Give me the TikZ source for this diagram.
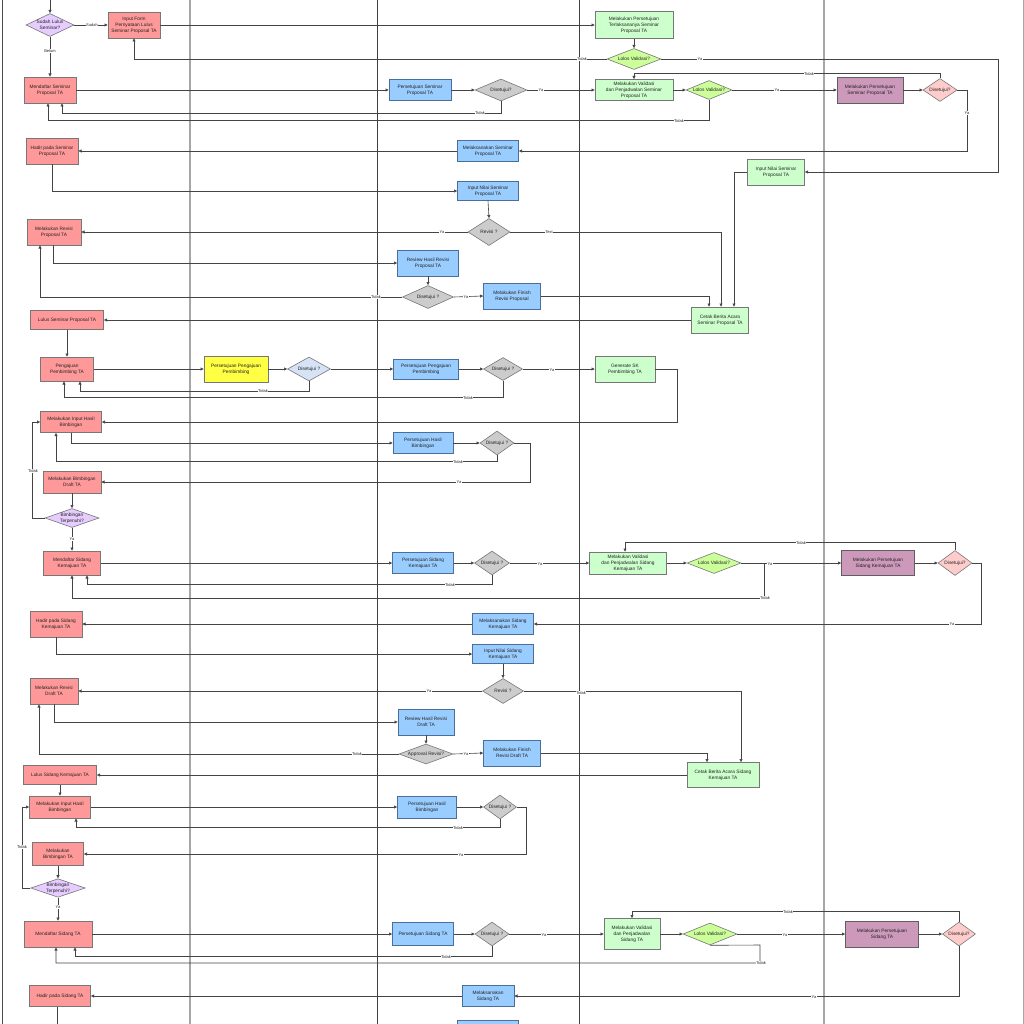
\documentclass[tikz,border=0pt]{standalone}
\usepackage{fontspec}
\setmainfont{Liberation Sans}
\usetikzlibrary{shapes.geometric,arrows.meta}
\definecolor{redf}{HTML}{FF9999}
\definecolor{bluef}{HTML}{99CCFF}
\definecolor{greenf}{HTML}{CCFFCC}
\definecolor{purpf}{HTML}{CC99BB}
\definecolor{yelf}{HTML}{FFFF44}
\definecolor{greyf}{HTML}{CCCCCC}
\definecolor{limef}{HTML}{CCFF99}
\definecolor{pinkf}{HTML}{FFCCCC}
\definecolor{lavf}{HTML}{E6CCFF}
\definecolor{lbluef}{HTML}{D6E2F5}
\definecolor{bordc}{HTML}{777777}
\definecolor{bbordc}{HTML}{4A6F99}
\definecolor{linec}{HTML}{444444}
\definecolor{txtc}{HTML}{222222}
\tikzset{
  sz/.style 2 args={minimum width=#1pt,minimum height=#2pt},
  base/.style={draw=bordc,line width=0.6pt,align=center,font=\fontsize{4.8}{6}\selectfont,text=txtc,inner sep=1pt},
  rbox/.style={base,rectangle,fill=redf},
  bbox/.style={base,rectangle,fill=bluef,draw=bbordc},
  gbox/.style={base,rectangle,fill=greenf},
  pbox/.style={base,rectangle,fill=purpf,draw=bordc!80!black},
  ybox/.style={base,rectangle,fill=yelf},
  dia/.style={base,diamond,inner sep=0pt},
  gdia/.style={dia,fill=greyf},
  ldia/.style={dia,fill=limef},
  pkdia/.style={dia,fill=pinkf},
  lvdia/.style={dia,fill=lavf},
  lbdia/.style={dia,fill=lbluef},
  arr/.style={draw=linec,line width=0.6pt,-{Triangle[length=3.2pt,width=3pt]}},
  lbl/.style={font=\fontsize{4}{4}\selectfont,fill=white,inner sep=0.5pt,text=txtc}
}
\begin{document}
\begin{tikzpicture}[x=1pt,y=-1pt]
\useasboundingbox (0,0) rectangle (1024,1024);
\fill[white] (0,0) rectangle (1024,1024);
% lanes
\draw[draw=black!70,line width=1pt] (2,0) -- (2,1024);
\draw[draw=black!35,line width=1.6pt] (190,0) -- (190,1024);
\draw[draw=black!75,line width=0.8pt] (377,0) -- (377,1024);
\draw[draw=black!75,line width=0.8pt] (579,0) -- (579,1024);
\draw[draw=black!35,line width=1.6pt] (824,0) -- (824,1024);
\draw[draw=black!35,line width=0.8pt] (1023,0) -- (1023,1024);

% nodes
\node[lvdia,sz={48}{23},aspect=2.09] (d1) at (50,25) {Sudah Lulus\\Seminar?};
\node[rbox,sz={52}{26}] (ifm) at (134,25) {Input Form\\Pernyataan Lulus\\Seminar Proposal TA};
\node[gbox,sz={78}{27}] (mpt) at (634,25) {Melakukan Persetujuan\\Terlaksananya Seminar\\Proposal TA};
\node[ldia,sz={54}{21},aspect=2.57] (lv1) at (634,59) {Lolos Validasi?};
\node[rbox,sz={52}{26}] (msp) at (50,90) {Mendaftar Seminar\\Proposal TA};
\node[bbox,sz={62}{21}] (psp) at (420,90) {Persetujuan Seminar\\Proposal TA};
\node[gdia,sz={52}{22},aspect=2.36] (ds1) at (501,90) {Disetujui?};
\node[gbox,sz={78}{21}] (mvs) at (634,90) {Melakukan Validasi\\dan Penjadwalan Seminar\\Proposal TA};
\node[ldia,sz={46}{19},aspect=2.42] (lv2) at (709,90) {Lolos Validasi?};
\node[pbox,sz={66}{26}] (mps) at (870,90) {Melakukan Persetujuan\\Seminar Proposal TA};
\node[pkdia,sz={34}{23},aspect=1.48] (ds2) at (940,90) {Disetujui?};
\node[bbox,sz={61}{21}] (msem) at (488,151) {Melaksanakan Seminar\\Proposal TA};
\node[rbox,sz={52}{26}] (hsp) at (52,151) {Hadir pada Seminar\\Proposal TA};
\node[bbox,sz={61}{19}] (insp) at (488,191) {Input Nilai Seminar\\Proposal TA};
\node[gbox,sz={57}{26}] (insg) at (776,172) {Input Nilai Seminar\\Proposal TA};
\node[gdia,sz={42}{27},aspect=1.56] (rv1) at (489,232) {Revisi ?};
\node[rbox,sz={54}{26}] (mrp) at (54,232) {Melakukan Revisi\\Proposal TA};
\node[bbox,sz={61}{26}] (rhr) at (428,263) {Review Hasil Revisi\\Proposal TA};
\node[gdia,sz={51}{23},aspect=2.2] (ds3) at (428,297) {Disetujui ?};
\node[bbox,sz={57}{26}] (mfr) at (512,296) {Melakukan Finish\\Revisi Proposal};
\node[gbox,sz={57}{26}] (cba) at (720,320) {Cetak Berita Acara\\Seminar Proposal TA};
\node[rbox,sz={73}{19}] (lsp) at (67,320) {Lulus Seminar Proposal TA};
\node[rbox,sz={53}{24}] (ppt) at (67,369) {Pengajuan\\Pembimbing TA};
\node[ybox,sz={64}{26}] (ppy) at (236,369) {Persetujuan Pengajuan\\Pembimbing};
\node[lbdia,sz={43}{24},aspect=1.8] (ds4) at (309,369) {Disetujui ?};
\node[bbox,sz={65}{20}] (ppb) at (426,369) {Persetujuan Pengajuan\\Pembimbing};
\node[gdia,sz={39}{23},aspect=1.7] (ds5) at (503,369) {Disetujui ?};
\node[gbox,sz={60}{26}] (gsk) at (625,369) {Generate SK\\Pembimbing TA};
\node[rbox,sz={61}{21}] (mih) at (71,422) {Melakukan Input Hasil\\Bimbingan};
\node[bbox,sz={60}{21}] (phb) at (423,443) {Persetujuan Hasil\\Bimbingan};
\node[gdia,sz={34}{24},aspect=1.42] (ds6) at (497,443) {Disetujui ?};
\node[rbox,sz={58}{22}] (mbd) at (72,482) {Melakukan Bimbingan\\Draft TA};
\node[lvdia,sz={54}{19},aspect=2.84] (bt1) at (72,518) {Bimbingan\\Terpenuhi?};
\node[rbox,sz={57}{24}] (msk) at (72,563) {Mendaftar Sidang\\Kemajuan TA};
\node[bbox,sz={61}{21}] (psk) at (423,563) {Persetujuan Sidang\\Kemajuan TA};
\node[gdia,sz={35}{24},aspect=1.46] (ds7) at (492,563) {Disetujui ?};
\node[gbox,sz={77}{22}] (mvk) at (628,563) {Melakukan Validasi\\dan Penjadwalan Sidang\\Kemajuan TA};
\node[ldia,sz={54}{21},aspect=2.57] (lv3) at (714,563) {Lolos Validasi?};
\node[pbox,sz={73}{25}] (mpk) at (878,563) {Melakukan Persetujuan\\Sidang Kemajuan TA};
\node[pkdia,sz={34}{25},aspect=1.36] (ds8) at (955,563) {Disetujui?};
\node[bbox,sz={61}{21}] (msk2) at (503,624) {Melaksanakan Sidang\\Kemajuan TA};
\node[rbox,sz={52}{26}] (hsk) at (56,624) {Hadir pada Sidang\\Kemajuan TA};
\node[bbox,sz={61}{19}] (insk) at (503,654) {Input Nilai Sidang\\Kemajuan TA};
\node[gdia,sz={41}{25},aspect=1.64] (rv2) at (503,691) {Revisi ?};
\node[rbox,sz={48}{26}] (mrd) at (54,691) {Melakukan Revisi\\Draft TA};
\node[bbox,sz={56}{26}] (rhd) at (426,722) {Review Hasil Revisi\\Draft TA};
\node[gdia,sz={54}{20},aspect=2.7] (apr) at (426,754) {Approval Revisi?};
\node[bbox,sz={57}{26}] (mfd) at (512,753) {Melakukan Finish\\Revisi Draft TA};
\node[gbox,sz={72}{25}] (cbk) at (723,775) {Cetak Berita Acara Sidang\\Kemajuan TA};
\node[rbox,sz={73}{19}] (lsk) at (60,775) {Lulus Sidang Kemajuan TA};
\node[rbox,sz={61}{22}] (mih2) at (60,807) {Melakukan Input Hasil\\Bimbingan};
\node[bbox,sz={59}{22}] (phb2) at (427,807) {Persetujuan Hasil\\Bimbingan};
\node[gdia,sz={33}{24},aspect=1.375] (ds9) at (500,807) {Disetujui ?};
\node[rbox,sz={51}{23}] (mbt) at (58,854) {Melakukan\\Bimbingan TA};
\node[lvdia,sz={53}{18},aspect=2.94] (bt2) at (58,888) {Bimbingan\\Terpenuhi?};
\node[rbox,sz={68}{26}] (mst) at (58,934) {Mendaftar Sidang TA};
\node[bbox,sz={61}{23}] (pst) at (423,934) {Persetujuan Sidang TA};
\node[gdia,sz={34}{24},aspect=1.42] (ds10) at (492,934) {Disetujui ?};
\node[gbox,sz={56}{31}] (mvt) at (632,934) {Melakukan Validasi\\dan Penjadwalan\\Sidang TA};
\node[ldia,sz={54}{22},aspect=2.45] (lv4) at (710,934) {Lolos Validasi?};
\node[pbox,sz={73}{26}] (mpt2) at (882,934) {Melakukan Persetujuan\\Sidang TA};
\node[pkdia,sz={33}{24},aspect=1.375] (ds11) at (959,934) {Disetujui?};
\node[bbox,sz={52}{21}] (mst2) at (488,996) {Melaksanakan\\Sidang TA};
\node[rbox,sz={61}{21}] (hst) at (60,996) {Hadir pada Sidang TA};
\node[bbox,sz={61}{24}] (bot) at (488,1032) {};
\coordinate (top) at (50,-2);
\coordinate (bend) at (57,1030);

% connectors
\draw[arr] (top) -- (d1.north);
\draw[arr] (d1.east) -- (ifm.west);
\draw[arr] (d1.south) -- (msp.north);
\draw[arr] (ifm.east) -- (mpt.west);
\draw[arr] (mpt.south) -- (lv1.north);
\draw[arr] (lv1.west) -- (134,59) -- (ifm.south);
\draw[arr] (lv1.east) -- (998,59) -- (998,172) -- (insg.east);
\draw[arr] (msp.east) -- (psp.west);
\draw[arr] (psp.east) -- (ds1.west);
\draw[arr] (ds1.east) -- (mvs.west);
\draw[arr] (ds1.south) -- (501,113) -- (62,113) -- ([xshift=12pt]msp.south);
\draw[arr] (mvs.east) -- (lv2.west);
\draw[arr] (lv2.south) -- (709,120) -- (48,120) -- ([xshift=-2pt]msp.south);
\draw[arr] (lv2.east) -- (mps.west);
\draw[arr] (mps.east) -- (ds2.west);
\draw[arr] (ds2.north) -- (940,73) -- (634,73) -- (mvs.north);
\draw[arr] (ds2.east) -- (967,90) -- (967,151) -- (msem.east);
\draw[arr] (msem.west) -- (hsp.east);
\draw[arr] (hsp.south) |- (insp.west);
\draw[arr] (insp.south) -- (rv1.north);
\draw[arr] (rv1.west) -- (mrp.east);
\draw[arr] (rv1.east) -- (721,232) -- ([xshift=1pt]cba.north);
\draw[arr] (insg.west) -- (734,172) -- ([xshift=14pt]cba.north);
\draw[arr] ([xshift=-1pt]mrp.south) |- (rhr.west);
\draw[arr] (rhr.south) -- (ds3.north);
\draw[arr] (ds3.west) -- (40,297) -- ([xshift=-14pt]mrp.south);
\draw[arr] (ds3.east) -- (mfr.west);
\draw[arr] (mfr.east) -- (709,296) -- ([xshift=-11pt]cba.north);
\draw[arr] (cba.west) -- (lsp.east);
\draw[arr] (lsp.south) -- (ppt.north);
\draw[arr] (ppt.east) -- (ppy.west);
\draw[arr] (ppy.east) -- (ds4.west);
\draw[arr] (ds4.south) -- (309,391) -- (80,391) -- ([xshift=13pt]ppt.south);
\draw[arr] (ds4.east) -- (ppb.west);
\draw[arr] (ppb.east) -- (ds5.west);
\draw[arr] (ds5.south) -- (503,397) -- (64,397) -- ([xshift=-3pt]ppt.south);
\draw[arr] (ds5.east) -- (gsk.west);
\draw[arr] (gsk.east) -- (677,369) -- (677,422) -- (mih.east);
\draw[arr] (mih.south) |- (phb.west);
\draw[arr] (phb.east) -- (ds6.west);
\draw[arr] (ds6.south) -- (497,461) -- (56,461) -- ([xshift=-15pt]mih.south);
\draw[arr] (ds6.east) -- (530,443) -- (530,482) -- (mbd.east);
\draw[arr] (mbd.south) -- (bt1.north);
\draw[arr] (bt1.west) -- (32,518) -- (32,422) -- (mih.west);
\draw[arr] (bt1.south) -- (msk.north);
\draw[arr] (msk.east) -- (psk.west);
\draw[arr] (psk.east) -- (ds7.west);
\draw[arr] (ds7.south) -- (492,584) -- (87,584) -- ([xshift=15pt]msk.south);
\draw[arr] (ds7.east) -- (mvk.west);
\draw[arr] (mvk.east) -- (lv3.west);
\draw[arr] (lv3.east) -- (mpk.west);
\draw[arr] (lv3.east) -- (764,563) -- (764,598) -- (72,598) -- (msk.south);
\draw[arr] (mpk.east) -- (ds8.west);
\draw[arr] (ds8.north) -- (955,542) -- (625,542) -- ([xshift=-3pt]mvk.north);
\draw[arr] (ds8.east) -- (981,563) -- (981,624) -- (msk2.east);
\draw[arr] (msk2.west) -- (hsk.east);
\draw[arr] (hsk.south) |- (insk.west);
\draw[arr] (insk.south) -- (rv2.north);
\draw[arr] (rv2.west) -- (mrd.east);
\draw[arr] (rv2.east) -- (741,691) -- ([xshift=18pt]cbk.north);
\draw[arr] (mrd.south) |- (rhd.west);
\draw[arr] (rhd.south) -- (apr.north);
\draw[arr] (apr.west) -- (39,754) -- ([xshift=-15pt]mrd.south);
\draw[arr] (apr.east) -- (mfd.west);
\draw[arr] (mfd.east) -- (707,753) -- ([xshift=-16pt]cbk.north);
\draw[arr] (cbk.west) -- (lsk.east);
\draw[arr] (lsk.south) -- (mih2.north);
\draw[arr] (mih2.east) -- (phb2.west);
\draw[arr] (phb2.east) -- (ds9.west);
\draw[arr] (ds9.south) -- (500,827) -- (76,827) -- ([xshift=16pt]mih2.south);
\draw[arr] (ds9.east) -- (526,807) -- (526,854) -- (mbt.east);
\draw[arr] (mbt.south) -- (bt2.north);
\draw[arr] (bt2.west) -- (22,888) -- (22,807) -- (mih2.west);
\draw[arr] (bt2.south) -- (mst.north);
\draw[arr] (mst.east) -- (pst.west);
\draw[arr] (pst.east) -- (ds10.west);
\draw[arr] (ds10.south) -- (492,956) -- (75,956) -- ([xshift=17pt]mst.south);
\draw[arr] (ds10.east) -- (mvt.west);
\draw[arr] (mvt.east) -- (lv4.west);
\draw[arr] (lv4.south) -- (760,945) -- (760,963) -- (56,963) -- ([xshift=-2pt]mst.south);
\draw[arr] (lv4.east) -- (mpt2.west);
\draw[arr] (mpt2.east) -- (ds11.west);
\draw[arr] (ds11.north) -- (959,911) -- (632,911) -- (mvt.north);
\draw[arr] (ds11.south) |- (mst2.east);
\draw[arr] (mst2.west) -- (hst.east);
\draw[draw=linec,line width=0.6pt] ([xshift=-3pt]hst.south) -- (bend);

% labels
\node[lbl] (l1) at (92,25) {Sudah};
\node[lbl] (l2) at (50,51) {Belum};
\node[lbl] (l3) at (582,59) {Tidak};
\node[lbl] (l4) at (700,59) {Ya};
\node[lbl] (l5) at (541,90) {Ya};
\node[lbl] (l6) at (480,113) {Tidak};
\node[lbl] (l7) at (679,121) {Tidak};
\node[lbl] (l8) at (777,90) {Ya};
\node[lbl] (l9) at (809,74) {Tidak};
\node[lbl] (l10) at (967,113) {Ya};
\node[lbl] (l11) at (442,232) {Ya};
\node[lbl] (l12) at (549,232) {Text};
\node[lbl] (l13) at (376,297) {Tidak};
\node[lbl] (l14) at (466,297) {Ya};
\node[lbl] (l15) at (263,391) {Tidak};
\node[lbl] (l16) at (468,398) {Tidak};
\node[lbl] (l17) at (552,370) {Ya};
\node[lbl] (l18) at (458,462) {Tidak};
\node[lbl] (l19) at (459,482) {Ya};
\node[lbl] (l20) at (33,471) {Tidak};
\node[lbl] (l21) at (72,539) {Ya};
\node[lbl] (l22) at (450,585) {Tidak};
\node[lbl] (l23) at (540,564) {Ya};
\node[lbl] (l24) at (770,564) {Ya};
\node[lbl] (l25) at (765,598) {Tidak};
\node[lbl] (l26) at (801,543) {Tidak};
\node[lbl] (l27) at (952,624) {Ya};
\node[lbl] (l28) at (429,691) {Ya};
\node[lbl] (l29) at (581,693) {Tidak};
\node[lbl] (l30) at (357,754) {Tidak};
\node[lbl] (l31) at (466,754) {Ya};
\node[lbl] (l32) at (458,828) {Tidak};
\node[lbl] (l33) at (461,855) {Ya};
\node[lbl] (l34) at (22,847) {Tidak};
\node[lbl] (l35) at (58,907) {Ya};
\node[lbl] (l36) at (446,957) {Tidak};
\node[lbl] (l37) at (544,935) {Ya};
\node[lbl] (l38) at (761,963) {Tidak};
\node[lbl] (l39) at (785,935) {Ya};
\node[lbl] (l40) at (788,912) {Tidak};
\node[lbl] (l41) at (814,997) {Ya};
\end{tikzpicture}
\end{document}
